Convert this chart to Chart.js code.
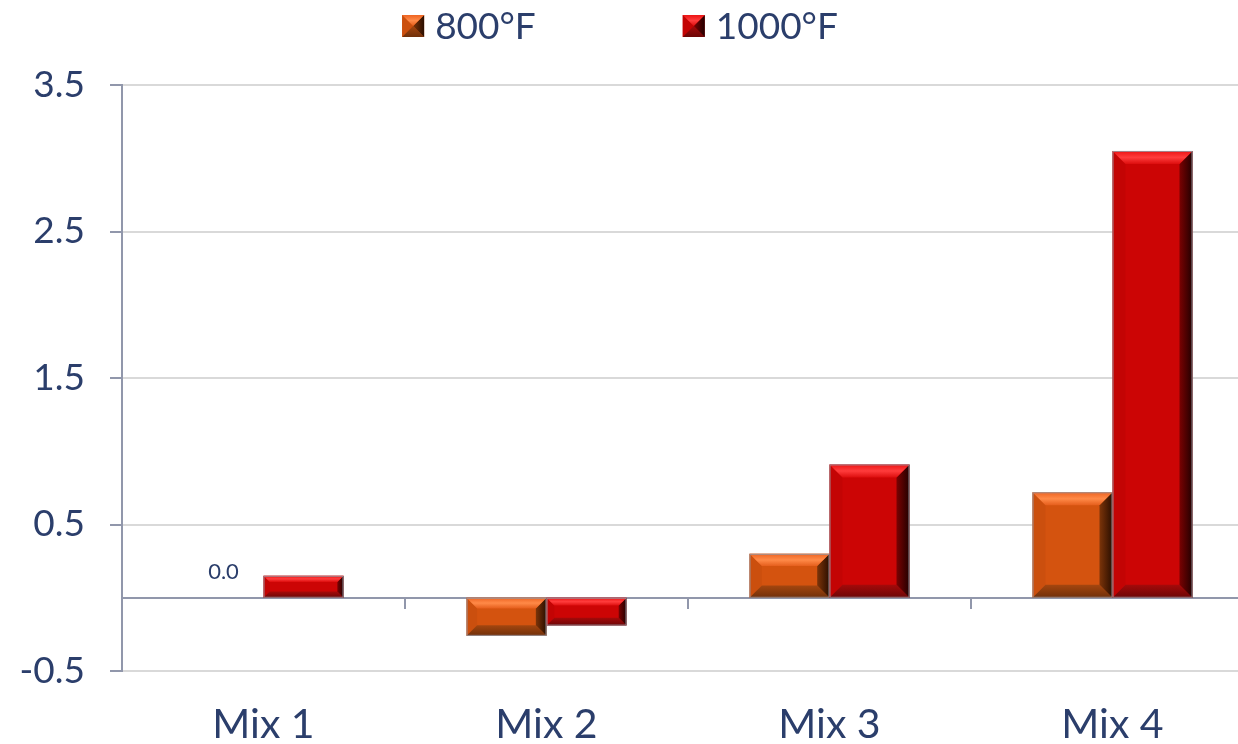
<!DOCTYPE html>
<html>
<head>
<meta charset="utf-8">
<script src="https://cdn.jsdelivr.net/npm/chart.js@4.4.1/dist/chart.umd.min.js"></script>
<style>
  html, body { margin: 0; padding: 0; background: #ffffff; overflow: hidden; }
  #wrap { width: 1256px; height: 744px; }
</style>
</head>
<body>
<div id="wrap"><canvas id="chart" width="1256" height="744"></canvas></div>
<script>
// ---- data ----
const categories = ['Mix 1', 'Mix 2', 'Mix 3', 'Mix 4'];
const seriesNames = ['800°F', '1000°F'];
const values800 = [0.0, -0.26, 0.30, 0.72];
const values1000 = [0.15, -0.19, 0.91, 3.05];
const yTickValues = [-0.5, 0.5, 1.5, 2.5, 3.5];
const labelledPoints = [{ dataset: 0, index: 0 }];

// ---- styling ----
const FONT = 'Lato, "DejaVu Sans", sans-serif';
const TEXT = '#2b3e6b';
const AXIS = '#9197ab';
const GRID = '#d9d9d9';

const palettes = [
  { body: '#D4530F', top: ['#EE6422', '#FF8A48', '#E55E1C'], right: ['#7C3409', '#2A0E00'],
    bottom: ['#A4460F', '#70300A'], left: '#CB4F0E' },
  { body: '#CC0505', top: ['#EC1414', '#FF3C3C', '#DD0E0E'], right: ['#7A0202', '#220000'],
    bottom: ['#A40A0A', '#6C0606'], left: '#C30404' }
];

function poly(ctx, pts, fill) {
  ctx.beginPath();
  ctx.moveTo(pts[0][0], pts[0][1]);
  for (let i = 1; i < pts.length; i++) ctx.lineTo(pts[i][0], pts[i][1]);
  ctx.closePath();
  ctx.fillStyle = fill;
  ctx.fill();
}

// bevelled face drawn over a rectangle
function drawBevel(ctx, l, t, r, b, bv, p, outline) {
  ctx.save();
  poly(ctx, [[l, t], [l + bv, t + bv], [l + bv, b - bv], [l, b]], p.left);
  let g = ctx.createLinearGradient(0, b - bv, 0, b);
  g.addColorStop(0, p.bottom[0]); g.addColorStop(1, p.bottom[1]);
  poly(ctx, [[l, b], [l + bv, b - bv], [r - bv, b - bv], [r, b]], g);
  g = ctx.createLinearGradient(r - bv, 0, r, 0);
  g.addColorStop(0, p.right[0]); g.addColorStop(1, p.right[1]);
  poly(ctx, [[r, t], [r - bv, t + bv], [r - bv, b - bv], [r, b]], g);
  g = ctx.createLinearGradient(0, t, 0, t + bv);
  g.addColorStop(0, p.top[0]); g.addColorStop(0.5, p.top[1]); g.addColorStop(1, p.top[2]);
  poly(ctx, [[l, t], [r, t], [r - bv, t + bv], [l + bv, t + bv]], g);
  if (outline) {
    ctx.strokeStyle = outline;
    ctx.lineWidth = 1;
    ctx.strokeRect(l + 0.5, t + 0.5, r - l - 1, b - t - 1);
  }
  ctx.restore();
}

const bevelBars = {
  id: 'bevelBars',
  afterDatasetsDraw(chart) {
    const ctx = chart.ctx;
    chart.data.datasets.forEach((ds, di) => {
      const meta = chart.getDatasetMeta(di);
      meta.data.forEach(bar => {
        const { x, y, base, width } = bar.getProps(['x', 'y', 'base', 'width'], true);
        const l = x - width / 2, r = x + width / 2;
        const t = Math.min(y, base), b = Math.max(y, base);
        const h = b - t;
        if (h < 1) return;
        const bv = Math.min(13, h * 0.28);
        drawBevel(ctx, l, t, r, b, bv, palettes[di], 'rgba(150,150,160,0.9)');
      });
    });
  }
};

const valueLabels = {
  id: 'valueLabels',
  afterDatasetsDraw(chart) {
    const ctx = chart.ctx;
    ctx.save();
    ctx.font = '22px ' + FONT;
    ctx.fillStyle = TEXT;
    ctx.textAlign = 'center';
    ctx.textBaseline = 'alphabetic';
    labelledPoints.forEach(pt => {
      const bar = chart.getDatasetMeta(pt.dataset).data[pt.index];
      const v = chart.data.datasets[pt.dataset].data[pt.index];
      const { x, y } = bar.getProps(['x', 'y'], true);
      ctx.fillText(v.toFixed(1), x, y - 19);
    });
    ctx.restore();
  }
};

const bevelLegend = {
  id: 'bevelLegend',
  afterDraw(chart, args, opts) {
    const ctx = chart.ctx;
    ctx.save();
    ctx.font = '37px ' + FONT;
    ctx.textBaseline = 'alphabetic';
    ctx.textAlign = 'left';
    const box = 22, gap = 11, spacing = 147;
    const items = chart.data.datasets.map((d, i) => ({ text: d.label, w: ctx.measureText(d.label).width, p: palettes[i] }));
    const total = items.reduce((s, it) => s + box + gap + it.w, 0) + spacing * (items.length - 1);
    let x = opts.centerX - total / 2;
    items.forEach(it => {
      const t = opts.boxTop;
      ctx.fillStyle = it.p.body;
      ctx.fillRect(x, t, box, box);
      drawBevel(ctx, x, t, x + box, t + box, box / 2, it.p, null);
      ctx.fillStyle = TEXT;
      ctx.fillText(it.text, x + box + gap, opts.baseline);
      x += box + gap + it.w + spacing;
    });
    ctx.restore();
  }
};

const chart = new Chart(document.getElementById('chart'), {
  type: 'bar',
  data: {
    labels: categories,
    datasets: [
      { label: seriesNames[0], data: values800, backgroundColor: palettes[0].body,
        xAxisID: 'x', yAxisID: 'y' },
      { label: seriesNames[1], data: values1000, backgroundColor: palettes[1].body,
        xAxisID: 'x', yAxisID: 'y' }
    ]
  },
  options: {
    responsive: false,
    animation: false,
    devicePixelRatio: 1,
    categoryPercentage: 160 / 283,
    barPercentage: 1.0,
    layout: { padding: { top: 85, right: 2, bottom: 0, left: 0 } },
    plugins: {
      legend: { display: false },
      tooltip: { enabled: false },
      bevelLegend: { centerX: 620, boxTop: 15, baseline: 39 }
    },
    scales: {
      y: {
        position: 'left',
        min: -0.5,
        max: 3.5,
        afterBuildTicks: s => { s.ticks = yTickValues.map(v => ({ value: v })); },
        afterFit: s => { s.width = 122; },
        ticks: {
          callback: v => Number(v).toFixed(1),
          color: TEXT,
          font: { family: FONT, size: 37 },
          padding: 25
        },
        grid: { color: GRID, lineWidth: 2, tickColor: AXIS, tickLength: 12, drawTicks: true },
        border: { color: AXIS, width: 2 }
      },
      x: {
        type: 'category',
        position: { y: 0 },
        offset: true,
        ticks: { display: false },
        grid: { offset: true, drawOnChartArea: false, drawTicks: true, tickLength: 10,
                tickColor: AXIS, lineWidth: 2 },
        border: { color: AXIS, width: 2 }
      },
      xLabels: {
        type: 'category',
        position: 'bottom',
        labels: categories,
        offset: true,
        afterFit: s => { s.height = 73; },
        ticks: { color: TEXT, font: { family: FONT, size: 41 }, padding: 29, maxRotation: 0 },
        grid: { display: false, drawTicks: false },
        border: { display: false }
      }
    }
  },
  plugins: [bevelBars, valueLabels, bevelLegend]
});
</script>
</body>
</html>
